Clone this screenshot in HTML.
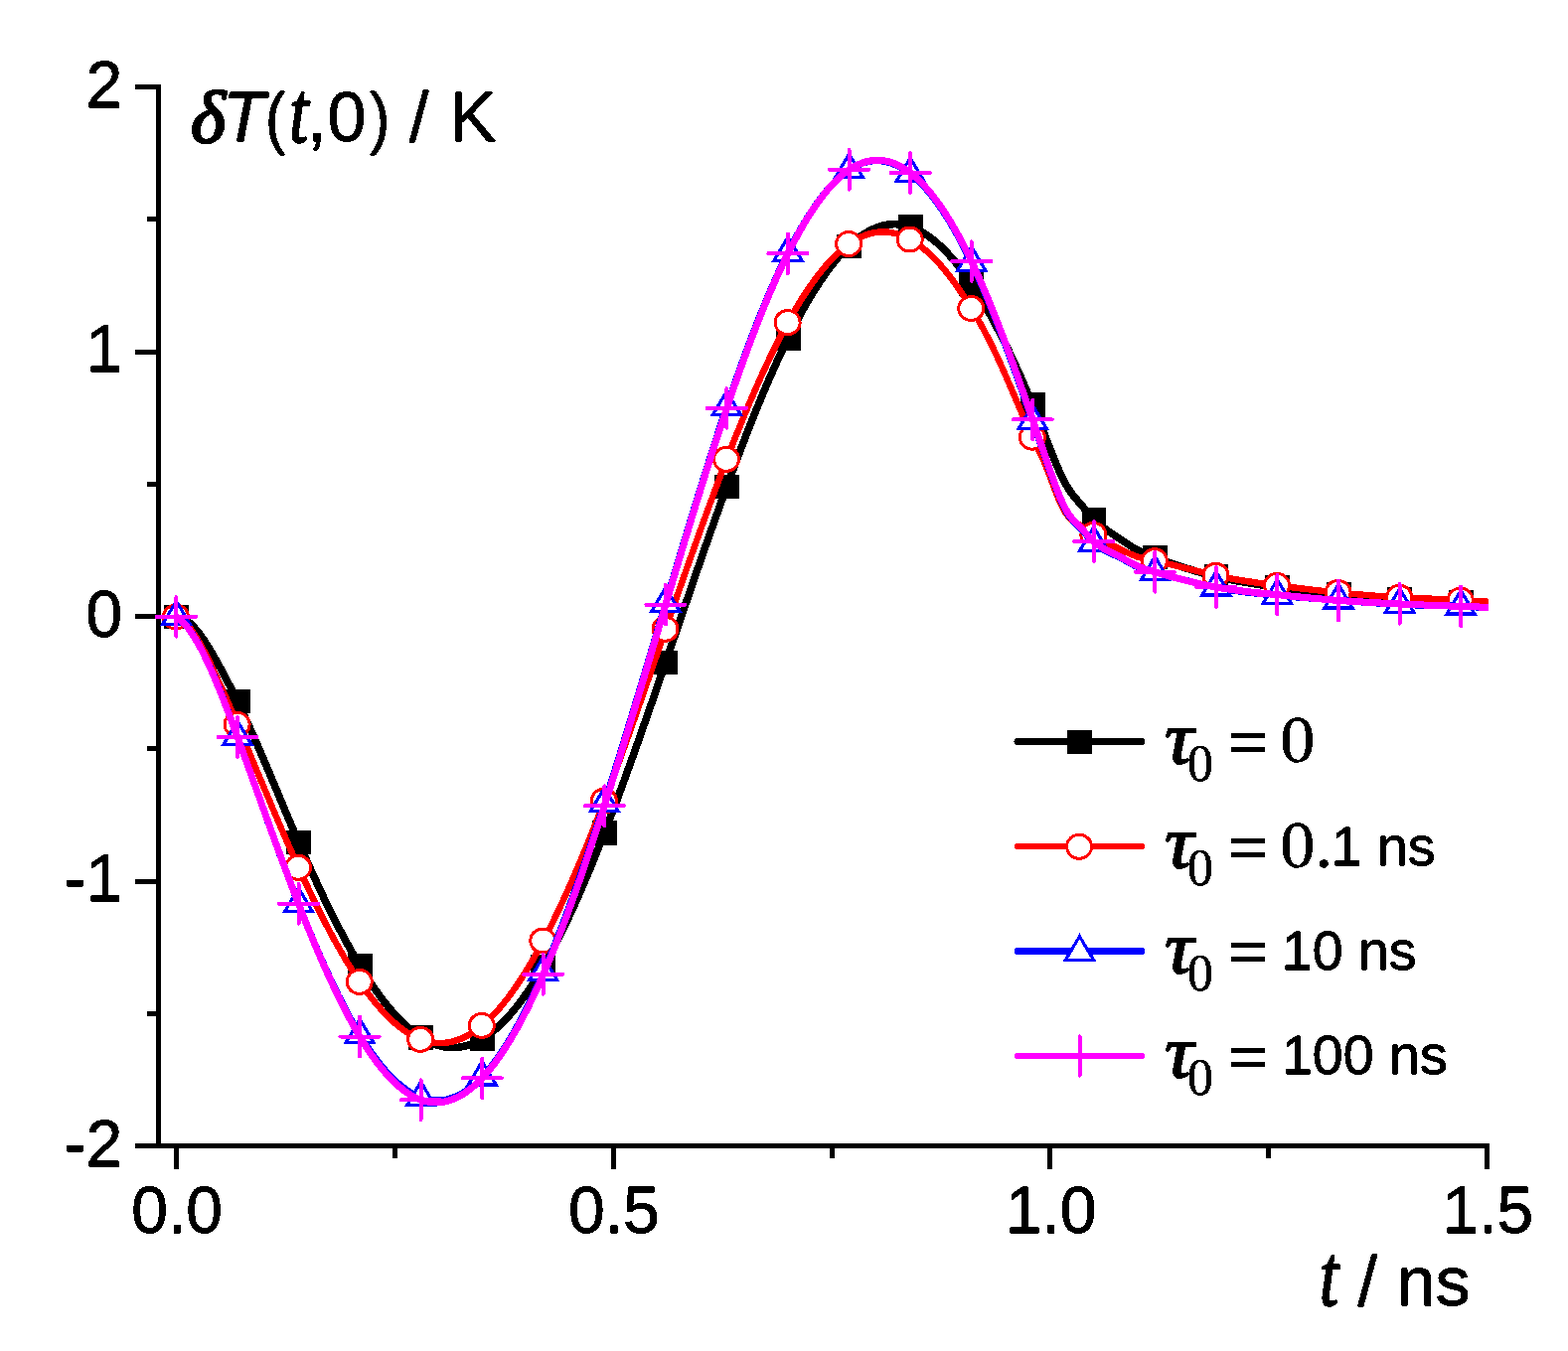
<!DOCTYPE html>
<html lang="en"><head><meta charset="utf-8"><title>Temperature response chart</title>
<style>html,body{margin:0;padding:0;background:#fff}body{width:1578px;height:1360px;overflow:hidden}svg{display:block}text{fill:#000;stroke:#000;stroke-width:0.45px;stroke-linejoin:round}.a{font-family:"Liberation Sans",Arial,sans-serif}.s{font-family:"Liberation Serif","Times New Roman",serif}.i{font-style:italic}</style>
</head><body>
<svg width="1578" height="1360" viewBox="0 0 1578 1360">
<defs><filter id="bin" x="-5%" y="-20%" width="110%" height="140%" color-interpolation-filters="sRGB"><feComponentTransfer><feFuncA type="discrete" tableValues="0 1 1 1"/></feComponentTransfer></filter></defs>
<rect width="1578" height="1360" fill="#fff"/>
<g stroke="#000" stroke-width="5" fill="none" stroke-linecap="butt" shape-rendering="crispEdges">
<path d="M159.5,85 V1156"/>
<path d="M157,1153.5 H1499"/>
<path d="M136,87.5 H160"/>
<path d="M136,354 H160"/>
<path d="M136,620.5 H160"/>
<path d="M136,887 H160"/>
<path d="M136,1153.5 H160"/>
<path d="M147.5,220.75 H160"/>
<path d="M147.5,487.25 H160"/>
<path d="M147.5,753.75 H160"/>
<path d="M147.5,1020.25 H160"/>
<path d="M177.4,1153 V1177"/>
<path d="M617.1,1153 V1177"/>
<path d="M1056.8,1153 V1177"/>
<path d="M1496.5,1153 V1177"/>
<path d="M397.3,1153 V1166"/>
<path d="M837.0,1153 V1166"/>
<path d="M1276.7,1153 V1166"/>
</g>
<path d="M177.4,621.0 178.9,621.1 180.4,621.3 181.9,621.7 183.4,622.3 184.9,623.0 186.4,623.8 187.9,624.8 189.4,625.9 190.9,627.2 192.4,628.5 193.9,630.0 195.4,631.6 196.9,633.3 198.4,635.1 199.9,637.0 201.4,639.0 202.9,641.0 204.4,643.2 205.9,645.4 207.4,647.7 208.9,650.1 210.4,652.6 211.9,655.0 213.4,657.6 214.9,660.2 216.4,662.8 217.9,665.5 219.4,668.2 220.9,670.9 222.4,673.7 223.9,676.4 225.4,679.2 226.9,682.1 228.4,684.9 229.9,687.8 231.4,690.7 232.9,693.7 234.4,696.7 235.9,699.7 237.4,702.7 238.9,705.8 240.4,708.9 241.9,712.0 243.4,715.2 244.9,718.4 246.4,721.7 247.9,724.9 249.4,728.2 250.9,731.5 252.4,734.9 253.9,738.3 255.4,741.6 256.9,745.1 258.4,748.5 259.9,751.9 261.4,755.4 262.9,758.9 264.4,762.4 265.9,765.9 267.4,769.4 268.9,773.0 270.4,776.5 271.9,780.1 273.4,783.6 274.9,787.2 276.4,790.8 277.9,794.3 279.4,797.9 280.9,801.5 282.4,805.1 283.9,808.6 285.4,812.2 286.9,815.8 288.4,819.4 289.9,822.9 291.4,826.5 292.9,830.0 294.4,833.5 295.9,837.1 297.4,840.6 298.9,844.1 300.4,847.5 301.9,851.0 303.4,854.4 304.9,857.9 306.4,861.3 307.9,864.7 309.4,868.0 310.9,871.4 312.4,874.7 313.9,878.0 315.4,881.3 316.9,884.6 318.4,887.8 319.9,891.1 321.4,894.3 322.9,897.5 324.4,900.7 325.9,903.8 327.4,906.9 328.9,910.0 330.4,913.1 331.9,916.1 333.4,919.2 334.9,922.2 336.4,925.2 337.9,928.1 339.4,931.0 340.9,933.9 342.4,936.8 343.9,939.7 345.4,942.5 346.9,945.3 348.4,948.1 349.9,950.8 351.4,953.5 352.9,956.2 354.4,958.9 355.9,961.5 357.4,964.1 358.9,966.7 360.4,969.2 361.9,971.7 363.4,974.2 364.9,976.6 366.4,979.0 367.9,981.4 369.4,983.8 370.9,986.1 372.4,988.4 373.9,990.6 375.4,992.9 376.9,995.0 378.4,997.2 379.9,999.3 381.4,1001.4 382.9,1003.4 384.4,1005.4 385.9,1007.4 387.4,1009.4 388.9,1011.3 390.4,1013.1 391.9,1015.0 393.4,1016.7 394.9,1018.5 396.4,1020.2 397.9,1021.9 399.4,1023.5 400.9,1025.1 402.4,1026.7 403.9,1028.2 405.4,1029.7 406.9,1031.1 408.4,1032.5 409.9,1033.9 411.4,1035.2 412.9,1036.5 414.4,1037.7 415.9,1038.9 417.4,1040.1 418.9,1041.2 420.4,1042.3 421.9,1043.3 423.4,1044.3 424.9,1045.2 426.4,1046.1 427.9,1046.9 429.4,1047.7 430.9,1048.5 432.4,1049.2 433.9,1049.9 435.4,1050.5 436.9,1051.1 438.4,1051.6 439.9,1052.1 441.4,1052.5 442.9,1052.9 444.4,1053.3 445.9,1053.6 447.4,1053.9 448.9,1054.1 450.4,1054.3 451.9,1054.4 453.4,1054.5 454.9,1054.5 456.4,1054.5 457.9,1054.5 459.4,1054.4 460.9,1054.3 462.4,1054.1 463.9,1053.9 465.4,1053.6 466.9,1053.3 468.4,1052.9 469.9,1052.5 471.4,1052.1 472.9,1051.6 474.4,1051.0 475.9,1050.4 477.4,1049.8 478.9,1049.1 480.4,1048.4 481.9,1047.6 483.4,1046.8 484.9,1046.0 486.4,1045.1 487.9,1044.1 489.4,1043.1 490.9,1042.1 492.4,1041.0 493.9,1039.9 495.4,1038.7 496.9,1037.5 498.4,1036.2 499.9,1034.9 501.4,1033.6 502.9,1032.2 504.4,1030.7 505.9,1029.2 507.4,1027.7 508.9,1026.1 510.4,1024.5 511.9,1022.9 513.4,1021.2 514.9,1019.5 516.4,1017.7 517.9,1015.9 519.4,1014.0 520.9,1012.1 522.4,1010.2 523.9,1008.2 525.4,1006.1 526.9,1004.1 528.4,1002.0 529.9,999.8 531.4,997.6 532.9,995.4 534.4,993.1 535.9,990.8 537.4,988.5 538.9,986.1 540.4,983.7 541.9,981.2 543.4,978.7 544.9,976.2 546.4,973.6 547.9,971.0 549.4,968.3 550.9,965.6 552.4,962.9 553.9,960.2 555.4,957.4 556.9,954.5 558.4,951.6 559.9,948.7 561.4,945.8 562.9,942.8 564.4,939.8 565.9,936.8 567.4,933.7 568.9,930.6 570.4,927.4 571.9,924.3 573.4,921.1 574.9,917.8 576.4,914.6 577.9,911.3 579.4,907.9 580.9,904.6 582.4,901.2 583.9,897.8 585.4,894.3 586.9,890.9 588.4,887.3 589.9,883.8 591.4,880.3 592.9,876.7 594.4,873.1 595.9,869.4 597.4,865.8 598.9,862.1 600.4,858.4 601.9,854.6 603.4,850.9 604.9,847.1 606.4,843.3 607.9,839.4 609.4,835.6 610.9,831.7 612.4,827.8 613.9,823.9 615.4,819.9 616.9,816.0 618.4,812.0 619.9,808.0 621.4,804.0 622.9,799.9 624.4,795.9 625.9,791.8 627.4,787.7 628.9,783.6 630.4,779.5 631.9,775.3 633.4,771.2 634.9,767.0 636.4,762.8 637.9,758.6 639.4,754.4 640.9,750.2 642.4,746.0 643.9,741.7 645.4,737.5 646.9,733.2 648.4,728.9 649.9,724.6 651.4,720.3 652.9,716.0 654.4,711.7 655.9,707.4 657.4,703.0 658.9,698.7 660.4,694.3 661.9,690.0 663.4,685.6 664.9,681.3 666.4,676.9 667.9,672.5 669.4,668.2 670.9,663.8 672.4,659.4 673.9,655.0 675.4,650.6 676.9,646.2 678.4,641.8 679.9,637.5 681.4,633.1 682.9,628.7 684.4,624.3 685.9,619.9 687.4,615.5 688.9,611.1 690.4,606.8 691.9,602.4 693.4,598.0 694.9,593.6 696.4,589.3 697.9,584.9 699.4,580.6 700.9,576.2 702.4,571.9 703.9,567.6 705.4,563.2 706.9,558.9 708.4,554.6 709.9,550.3 711.4,546.0 712.9,541.8 714.4,537.5 715.9,533.3 717.4,529.0 718.9,524.8 720.4,520.6 721.9,516.4 723.4,512.2 724.9,508.0 726.4,503.8 727.9,499.7 729.4,495.5 730.9,491.4 732.4,487.3 733.9,483.2 735.4,479.2 736.9,475.1 738.4,471.1 739.9,467.1 741.4,463.1 742.9,459.1 744.4,455.2 745.9,451.2 747.4,447.3 748.9,443.4 750.4,439.6 751.9,435.7 753.4,431.9 754.9,428.1 756.4,424.3 757.9,420.6 759.4,416.8 760.9,413.1 762.4,409.5 763.9,405.8 765.4,402.2 766.9,398.6 768.4,395.0 769.9,391.5 771.4,388.0 772.9,384.5 774.4,381.0 775.9,377.6 777.4,374.2 778.9,370.8 780.4,367.5 781.9,364.1 783.4,360.9 784.9,357.6 786.4,354.4 787.9,351.2 789.4,348.1 790.9,345.0 792.4,341.9 793.9,338.8 795.4,335.8 796.9,332.8 798.4,329.9 799.9,327.0 801.4,324.1 802.9,321.3 804.4,318.5 805.9,315.7 807.4,313.0 808.9,310.3 810.4,307.7 811.9,305.1 813.4,302.5 814.9,300.0 816.4,297.5 817.9,295.0 819.4,292.6 820.9,290.2 822.4,287.9 823.9,285.6 825.4,283.3 826.9,281.1 828.4,278.9 829.9,276.8 831.4,274.7 832.9,272.6 834.4,270.6 835.9,268.6 837.4,266.7 838.9,264.8 840.4,262.9 841.9,261.1 843.4,259.3 844.9,257.6 846.4,255.9 847.9,254.3 849.4,252.7 850.9,251.2 852.4,249.7 853.9,248.2 855.4,246.8 856.9,245.4 858.4,244.1 859.9,242.8 861.4,241.6 862.9,240.4 864.4,239.3 865.9,238.2 867.4,237.1 868.9,236.1 870.4,235.1 871.9,234.2 873.4,233.4 874.9,232.5 876.4,231.8 877.9,231.0 879.4,230.3 880.9,229.7 882.4,229.1 883.9,228.6 885.4,228.1 886.9,227.6 888.4,227.2 889.9,226.8 891.4,226.5 892.9,226.3 894.4,226.0 895.9,225.9 897.4,225.8 898.9,225.7 900.4,225.6 901.9,225.7 903.4,225.7 904.9,225.8 906.4,226.0 907.9,226.2 909.4,226.5 910.9,226.8 912.4,227.1 913.9,227.5 915.4,228.0 916.9,228.5 918.4,229.0 919.9,229.6 921.4,230.3 922.9,230.9 924.4,231.7 925.9,232.5 927.4,233.3 928.9,234.2 930.4,235.1 931.9,236.0 933.4,237.1 934.9,238.1 936.4,239.2 937.9,240.4 939.4,241.5 940.9,242.8 942.4,244.1 943.9,245.4 945.4,246.7 946.9,248.2 948.4,249.6 949.9,251.1 951.4,252.6 952.9,254.2 954.4,255.8 955.9,257.5 957.4,259.2 958.9,260.9 960.4,262.7 961.9,264.5 963.4,266.4 964.9,268.3 966.4,270.2 967.9,272.2 969.4,274.2 970.9,276.3 972.4,278.4 973.9,280.5 975.4,282.7 976.9,284.9 978.4,287.1 979.9,289.4 981.4,291.7 982.9,294.1 984.4,296.5 985.9,298.9 987.4,301.4 988.9,303.9 990.4,306.4 991.9,309.0 993.4,311.6 994.9,314.2 996.4,316.9 997.9,319.6 999.4,322.3 1000.9,325.1 1002.4,327.9 1003.9,330.8 1005.4,333.7 1006.9,336.6 1008.4,339.5 1009.9,342.5 1011.4,345.6 1012.9,348.6 1014.4,351.7 1015.9,354.8 1017.4,358.0 1018.9,361.2 1020.4,364.4 1021.9,367.6 1023.4,370.9 1024.9,374.2 1026.4,377.6 1027.9,381.0 1029.4,384.4 1030.9,387.8 1032.4,391.3 1033.9,394.8 1035.4,398.4 1036.9,401.9 1038.4,405.5 1039.9,409.2 1041.4,412.8 1042.9,416.5 1044.4,420.2 1045.9,424.0 1047.4,427.7 1048.9,431.5 1050.4,435.3 1051.9,439.1 1053.4,443.0 1054.9,446.8 1056.4,450.6 1057.9,454.5 1059.4,458.3 1060.9,462.1 1062.4,465.8 1063.9,469.4 1065.4,472.9 1066.9,476.2 1068.4,479.4 1069.9,482.4 1071.4,485.3 1072.9,488.0 1074.4,490.5 1075.9,492.9 1077.4,495.1 1078.9,497.1 1080.4,499.1 1081.9,500.9 1083.4,502.7 1084.9,504.5 1086.4,506.2 1087.9,508.0 1089.4,509.7 1090.9,511.5 1092.4,513.3 1093.9,515.0 1095.4,516.8 1096.9,518.5 1098.4,520.1 1099.9,521.7 1101.4,523.2 1102.9,524.7 1104.4,526.1 1105.9,527.4 1107.4,528.7 1108.9,529.9 1110.4,531.1 1111.9,532.2 1113.4,533.3 1114.9,534.4 1116.4,535.4 1117.9,536.4 1119.4,537.4 1120.9,538.4 1122.4,539.4 1123.9,540.4 1125.4,541.4 1126.9,542.4 1128.4,543.5 1129.9,544.5 1131.4,545.5 1132.9,546.5 1134.4,547.5 1135.9,548.5 1137.4,549.5 1138.9,550.5 1140.4,551.4 1141.9,552.3 1143.4,553.1 1144.9,553.9 1146.4,554.7 1147.9,555.4 1149.4,556.1 1150.9,556.8 1152.4,557.5 1153.9,558.1 1155.4,558.7 1156.9,559.3 1158.4,559.8 1159.9,560.4 1161.4,561.0 1162.9,561.5 1164.4,562.1 1165.9,562.6 1167.4,563.1 1168.9,563.7 1170.4,564.2 1171.9,564.7 1173.4,565.3 1174.9,565.8 1176.4,566.3 1177.9,566.8 1179.4,567.3 1180.9,567.8 1182.4,568.3 1183.9,568.8 1185.4,569.3 1186.9,569.8 1188.4,570.3 1189.9,570.8 1191.4,571.2 1192.9,571.7 1194.4,572.2 1195.9,572.6 1197.4,573.1 1198.9,573.6 1200.4,574.0 1201.9,574.4 1203.4,574.9 1204.9,575.3 1206.4,575.7 1207.9,576.2 1209.4,576.6 1210.9,577.0 1212.4,577.4 1213.9,577.8 1215.4,578.2 1216.9,578.6 1218.4,579.0 1219.9,579.3 1221.4,579.7 1222.9,580.1 1224.4,580.4 1225.9,580.8 1227.4,581.1 1228.9,581.5 1230.4,581.8 1231.9,582.1 1233.4,582.5 1234.9,582.8 1236.4,583.1 1237.9,583.4 1239.4,583.7 1240.9,584.0 1242.4,584.3 1243.9,584.6 1245.4,584.9 1246.9,585.1 1248.4,585.4 1249.9,585.7 1251.4,585.9 1252.9,586.2 1254.4,586.5 1255.9,586.7 1257.4,587.0 1258.9,587.2 1260.4,587.5 1261.9,587.7 1263.4,587.9 1264.9,588.2 1266.4,588.4 1267.9,588.6 1269.4,588.9 1270.9,589.1 1272.4,589.3 1273.9,589.5 1275.4,589.7 1276.9,589.9 1278.4,590.1 1279.9,590.4 1281.4,590.6 1282.9,590.8 1284.4,591.0 1285.9,591.2 1287.4,591.4 1288.9,591.6 1290.4,591.7 1291.9,591.9 1293.4,592.1 1294.9,592.3 1296.4,592.5 1297.9,592.7 1299.4,592.9 1300.9,593.1 1302.4,593.2 1303.9,593.4 1305.4,593.6 1306.9,593.8 1308.4,594.0 1309.9,594.1 1311.4,594.3 1312.9,594.5 1314.4,594.7 1315.9,594.8 1317.4,595.0 1318.9,595.2 1320.4,595.3 1321.9,595.5 1323.4,595.7 1324.9,595.8 1326.4,596.0 1327.9,596.1 1329.4,596.3 1330.9,596.5 1332.4,596.6 1333.9,596.8 1335.4,596.9 1336.9,597.1 1338.4,597.2 1339.9,597.4 1341.4,597.5 1342.9,597.7 1344.4,597.8 1345.9,598.0 1347.4,598.1 1348.9,598.3 1350.4,598.4 1351.9,598.6 1353.4,598.7 1354.9,598.9 1356.4,599.0 1357.9,599.1 1359.4,599.3 1360.9,599.4 1362.4,599.6 1363.9,599.7 1365.4,599.8 1366.9,600.0 1368.4,600.1 1369.9,600.2 1371.4,600.4 1372.9,600.5 1374.4,600.6 1375.9,600.8 1377.4,600.9 1378.9,601.0 1380.4,601.1 1381.9,601.3 1383.4,601.4 1384.9,601.5 1386.4,601.6 1387.9,601.7 1389.4,601.8 1390.9,602.0 1392.4,602.1 1393.9,602.2 1395.4,602.3 1396.9,602.4 1398.4,602.5 1399.9,602.6 1401.4,602.7 1402.9,602.8 1404.4,602.9 1405.9,603.0 1407.4,603.1 1408.9,603.2 1410.4,603.3 1411.9,603.4 1413.4,603.5 1414.9,603.6 1416.4,603.7 1417.9,603.8 1419.4,603.9 1420.9,603.9 1422.4,604.0 1423.9,604.1 1425.4,604.2 1426.9,604.3 1428.4,604.3 1429.9,604.4 1431.4,604.5 1432.9,604.6 1434.4,604.6 1435.9,604.7 1437.4,604.8 1438.9,604.9 1440.4,604.9 1441.9,605.0 1443.4,605.1 1444.9,605.1 1446.4,605.2 1447.9,605.3 1449.4,605.3 1450.9,605.4 1452.4,605.5 1453.9,605.5 1455.4,605.6 1456.9,605.7 1458.4,605.7 1459.9,605.8 1461.4,605.8 1462.9,605.9 1464.4,606.0 1465.9,606.0 1467.4,606.1 1468.9,606.2 1470.4,606.2 1471.9,606.3 1473.4,606.3 1474.9,606.4 1476.4,606.5 1477.9,606.5 1479.4,606.6 1480.9,606.6 1482.4,606.7 1483.9,606.8 1485.4,606.8 1486.9,606.9 1488.4,606.9 1489.9,607.0 1491.4,607.1 1492.9,607.1 1494.4,607.2 1495.9,607.2 1497.4,607.3 1497.5,607.3" fill="none" stroke="#000" stroke-width="7.6" stroke-linejoin="round" shape-rendering="crispEdges"/>
<g shape-rendering="crispEdges">
<rect x="165.1" y="608.9" width="24.8" height="24.2" fill="#000"/>
<rect x="226.7" y="693.8" width="24.8" height="24.2" fill="#000"/>
<rect x="288.2" y="835.7" width="24.8" height="24.2" fill="#000"/>
<rect x="349.8" y="959.9" width="24.8" height="24.2" fill="#000"/>
<rect x="411.3" y="1032.3" width="24.8" height="24.2" fill="#000"/>
<rect x="472.9" y="1033.7" width="24.8" height="24.2" fill="#000"/>
<rect x="534.4" y="960.9" width="24.8" height="24.2" fill="#000"/>
<rect x="596.0" y="826.3" width="24.8" height="24.2" fill="#000"/>
<rect x="657.6" y="654.7" width="24.8" height="24.2" fill="#000"/>
<rect x="719.1" y="477.9" width="24.8" height="24.2" fill="#000"/>
<rect x="780.7" y="328.6" width="24.8" height="24.2" fill="#000"/>
<rect x="842.2" y="235.5" width="24.8" height="24.2" fill="#000"/>
<rect x="903.8" y="216.1" width="24.8" height="24.2" fill="#000"/>
<rect x="965.4" y="273.9" width="24.8" height="24.2" fill="#000"/>
<rect x="1026.9" y="395.4" width="24.8" height="24.2" fill="#000"/>
<rect x="1088.5" y="510.5" width="24.8" height="24.2" fill="#000"/>
<rect x="1150.0" y="549.2" width="24.8" height="24.2" fill="#000"/>
<rect x="1211.6" y="568.2" width="24.8" height="24.2" fill="#000"/>
<rect x="1273.1" y="579.0" width="24.8" height="24.2" fill="#000"/>
<rect x="1334.7" y="586.0" width="24.8" height="24.2" fill="#000"/>
<rect x="1396.3" y="591.1" width="24.8" height="24.2" fill="#000"/>
<rect x="1457.8" y="594.1" width="24.8" height="24.2" fill="#000"/>
</g>
<path d="M177.4,621.0 178.9,621.5 180.4,622.3 181.9,623.2 183.4,624.3 184.9,625.5 186.4,626.9 187.9,628.4 189.4,630.1 190.9,632.0 192.4,633.9 193.9,636.0 195.4,638.2 196.9,640.6 198.4,643.0 199.9,645.5 201.4,648.1 202.9,650.8 204.4,653.6 205.9,656.5 207.4,659.4 208.9,662.4 210.4,665.5 211.9,668.5 213.4,671.7 214.9,674.8 216.4,678.0 217.9,681.3 219.4,684.6 220.9,687.8 222.4,691.2 223.9,694.5 225.4,697.9 226.9,701.3 228.4,704.7 229.9,708.2 231.4,711.6 232.9,715.1 234.4,718.6 235.9,722.1 237.4,725.6 238.9,729.2 240.4,732.7 241.9,736.2 243.4,739.8 244.9,743.3 246.4,746.9 247.9,750.5 249.4,754.0 250.9,757.6 252.4,761.2 253.9,764.8 255.4,768.3 256.9,771.9 258.4,775.5 259.9,779.1 261.4,782.6 262.9,786.2 264.4,789.8 265.9,793.4 267.4,796.9 268.9,800.5 270.4,804.0 271.9,807.6 273.4,811.1 274.9,814.7 276.4,818.2 277.9,821.7 279.4,825.2 280.9,828.7 282.4,832.2 283.9,835.7 285.4,839.2 286.9,842.6 288.4,846.1 289.9,849.5 291.4,852.9 292.9,856.3 294.4,859.7 295.9,863.0 297.4,866.4 298.9,869.7 300.4,873.0 301.9,876.3 303.4,879.6 304.9,882.9 306.4,886.1 307.9,889.3 309.4,892.5 310.9,895.7 312.4,898.8 313.9,902.0 315.4,905.1 316.9,908.2 318.4,911.2 319.9,914.3 321.4,917.3 322.9,920.3 324.4,923.2 325.9,926.2 327.4,929.1 328.9,932.0 330.4,934.8 331.9,937.7 333.4,940.5 334.9,943.3 336.4,946.0 337.9,948.7 339.4,951.4 340.9,954.1 342.4,956.7 343.9,959.3 345.4,961.9 346.9,964.5 348.4,967.0 349.9,969.5 351.4,971.9 352.9,974.3 354.4,976.7 355.9,979.1 357.4,981.4 358.9,983.7 360.4,985.9 361.9,988.1 363.4,990.3 364.9,992.5 366.4,994.6 367.9,996.7 369.4,998.7 370.9,1000.7 372.4,1002.7 373.9,1004.6 375.4,1006.5 376.9,1008.4 378.4,1010.2 379.9,1012.0 381.4,1013.7 382.9,1015.4 384.4,1017.1 385.9,1018.7 387.4,1020.3 388.9,1021.8 390.4,1023.4 391.9,1024.8 393.4,1026.3 394.9,1027.7 396.4,1029.0 397.9,1030.3 399.4,1031.6 400.9,1032.8 402.4,1034.0 403.9,1035.2 405.4,1036.3 406.9,1037.4 408.4,1038.4 409.9,1039.4 411.4,1040.3 412.9,1041.2 414.4,1042.1 415.9,1042.9 417.4,1043.7 418.9,1044.4 420.4,1045.1 421.9,1045.7 423.4,1046.3 424.9,1046.9 426.4,1047.4 427.9,1047.8 429.4,1048.3 430.9,1048.6 432.4,1049.0 433.9,1049.2 435.4,1049.5 436.9,1049.7 438.4,1049.8 439.9,1049.9 441.4,1050.0 442.9,1050.0 444.4,1050.0 445.9,1049.9 447.4,1049.8 448.9,1049.7 450.4,1049.5 451.9,1049.2 453.4,1048.9 454.9,1048.6 456.4,1048.2 457.9,1047.8 459.4,1047.3 460.9,1046.8 462.4,1046.3 463.9,1045.7 465.4,1045.0 466.9,1044.3 468.4,1043.6 469.9,1042.8 471.4,1042.0 472.9,1041.2 474.4,1040.2 475.9,1039.3 477.4,1038.3 478.9,1037.3 480.4,1036.2 481.9,1035.0 483.4,1033.9 484.9,1032.6 486.4,1031.4 487.9,1030.1 489.4,1028.7 490.9,1027.3 492.4,1025.9 493.9,1024.4 495.4,1022.9 496.9,1021.3 498.4,1019.7 499.9,1018.1 501.4,1016.4 502.9,1014.6 504.4,1012.9 505.9,1011.1 507.4,1009.2 508.9,1007.3 510.4,1005.4 511.9,1003.4 513.4,1001.4 514.9,999.3 516.4,997.2 517.9,995.1 519.4,992.9 520.9,990.7 522.4,988.5 523.9,986.2 525.4,983.9 526.9,981.5 528.4,979.1 529.9,976.7 531.4,974.2 532.9,971.7 534.4,969.2 535.9,966.6 537.4,964.0 538.9,961.4 540.4,958.7 541.9,956.0 543.4,953.2 544.9,950.5 546.4,947.7 547.9,944.8 549.4,941.9 550.9,939.0 552.4,936.1 553.9,933.1 555.4,930.1 556.9,927.1 558.4,924.0 559.9,920.9 561.4,917.8 562.9,914.6 564.4,911.4 565.9,908.2 567.4,904.9 568.9,901.7 570.4,898.4 571.9,895.0 573.4,891.7 574.9,888.3 576.4,884.9 577.9,881.4 579.4,877.9 580.9,874.4 582.4,870.9 583.9,867.4 585.4,863.8 586.9,860.2 588.4,856.6 589.9,852.9 591.4,849.2 592.9,845.5 594.4,841.8 595.9,838.1 597.4,834.3 598.9,830.5 600.4,826.7 601.9,822.8 603.4,819.0 604.9,815.1 606.4,811.2 607.9,807.3 609.4,803.3 610.9,799.4 612.4,795.4 613.9,791.4 615.4,787.3 616.9,783.3 618.4,779.2 619.9,775.2 621.4,771.1 622.9,767.0 624.4,762.8 625.9,758.7 627.4,754.5 628.9,750.4 630.4,746.2 631.9,742.0 633.4,737.8 634.9,733.6 636.4,729.3 637.9,725.1 639.4,720.9 640.9,716.6 642.4,712.3 643.9,708.1 645.4,703.8 646.9,699.5 648.4,695.2 649.9,690.9 651.4,686.6 652.9,682.3 654.4,677.9 655.9,673.6 657.4,669.3 658.9,665.0 660.4,660.6 661.9,656.3 663.4,652.0 664.9,647.6 666.4,643.3 667.9,639.0 669.4,634.6 670.9,630.3 672.4,626.0 673.9,621.7 675.4,617.3 676.9,613.0 678.4,608.7 679.9,604.4 681.4,600.1 682.9,595.8 684.4,591.5 685.9,587.2 687.4,582.9 688.9,578.6 690.4,574.4 691.9,570.1 693.4,565.9 694.9,561.6 696.4,557.4 697.9,553.2 699.4,549.0 700.9,544.8 702.4,540.6 703.9,536.4 705.4,532.2 706.9,528.1 708.4,523.9 709.9,519.8 711.4,515.7 712.9,511.6 714.4,507.5 715.9,503.4 717.4,499.4 718.9,495.3 720.4,491.3 721.9,487.3 723.4,483.3 724.9,479.3 726.4,475.4 727.9,471.5 729.4,467.5 730.9,463.7 732.4,459.8 733.9,455.9 735.4,452.1 736.9,448.3 738.4,444.5 739.9,440.7 741.4,437.0 742.9,433.3 744.4,429.6 745.9,425.9 747.4,422.2 748.9,418.6 750.4,415.0 751.9,411.4 753.4,407.9 754.9,404.3 756.4,400.8 757.9,397.4 759.4,393.9 760.9,390.5 762.4,387.1 763.9,383.8 765.4,380.4 766.9,377.1 768.4,373.8 769.9,370.6 771.4,367.4 772.9,364.2 774.4,361.0 775.9,357.9 777.4,354.8 778.9,351.7 780.4,348.7 781.9,345.7 783.4,342.7 784.9,339.8 786.4,336.9 787.9,334.0 789.4,331.2 790.9,328.4 792.4,325.7 793.9,322.9 795.4,320.2 796.9,317.6 798.4,315.0 799.9,312.4 801.4,309.8 802.9,307.3 804.4,304.9 805.9,302.4 807.4,300.0 808.9,297.7 810.4,295.4 811.9,293.1 813.4,290.9 814.9,288.6 816.4,286.5 817.9,284.4 819.4,282.3 820.9,280.2 822.4,278.2 823.9,276.3 825.4,274.4 826.9,272.5 828.4,270.6 829.9,268.8 831.4,267.1 832.9,265.4 834.4,263.7 835.9,262.1 837.4,260.5 838.9,258.9 840.4,257.4 841.9,256.0 843.4,254.6 844.9,253.2 846.4,251.9 847.9,250.6 849.4,249.4 850.9,248.2 852.4,247.0 853.9,246.0 855.4,244.9 856.9,243.9 858.4,242.9 859.9,242.0 861.4,241.2 862.9,240.3 864.4,239.6 865.9,238.8 867.4,238.2 868.9,237.5 870.4,236.9 871.9,236.4 873.4,235.9 874.9,235.4 876.4,235.0 877.9,234.7 879.4,234.4 880.9,234.1 882.4,233.9 883.9,233.7 885.4,233.6 886.9,233.5 888.4,233.4 889.9,233.4 891.4,233.5 892.9,233.6 894.4,233.7 895.9,233.9 897.4,234.2 898.9,234.5 900.4,234.8 901.9,235.2 903.4,235.6 904.9,236.1 906.4,236.6 907.9,237.1 909.4,237.7 910.9,238.4 912.4,239.1 913.9,239.8 915.4,240.6 916.9,241.5 918.4,242.3 919.9,243.3 921.4,244.2 922.9,245.3 924.4,246.3 925.9,247.4 927.4,248.6 928.9,249.8 930.4,251.0 931.9,252.3 933.4,253.6 934.9,255.0 936.4,256.4 937.9,257.8 939.4,259.3 940.9,260.9 942.4,262.4 943.9,264.1 945.4,265.7 946.9,267.4 948.4,269.1 949.9,270.9 951.4,272.7 952.9,274.6 954.4,276.5 955.9,278.4 957.4,280.4 958.9,282.4 960.4,284.4 961.9,286.5 963.4,288.6 964.9,290.8 966.4,293.0 967.9,295.2 969.4,297.4 970.9,299.7 972.4,302.1 973.9,304.4 975.4,306.8 976.9,309.3 978.4,311.7 979.9,314.2 981.4,316.8 982.9,319.3 984.4,322.0 985.9,324.6 987.4,327.3 988.9,330.0 990.4,332.8 991.9,335.7 993.4,338.5 994.9,341.5 996.4,344.4 997.9,347.5 999.4,350.5 1000.9,353.7 1002.4,356.8 1003.9,360.0 1005.4,363.2 1006.9,366.5 1008.4,369.8 1009.9,373.2 1011.4,376.6 1012.9,380.0 1014.4,383.5 1015.9,386.9 1017.4,390.4 1018.9,393.9 1020.4,397.4 1021.9,401.0 1023.4,404.5 1024.9,408.0 1026.4,411.5 1027.9,415.0 1029.4,418.4 1030.9,421.9 1032.4,425.3 1033.9,428.6 1035.4,432.0 1036.9,435.2 1038.4,438.5 1039.9,441.7 1041.4,444.8 1042.9,447.9 1044.4,451.0 1045.9,454.1 1047.4,457.3 1048.9,460.6 1050.4,463.9 1051.9,467.4 1053.4,471.0 1054.9,474.8 1056.4,478.7 1057.9,482.7 1059.4,486.7 1060.9,490.7 1062.4,494.7 1063.9,498.5 1065.4,502.2 1066.9,505.7 1068.4,509.0 1069.9,512.0 1071.4,514.6 1072.9,516.9 1074.4,518.9 1075.9,520.6 1077.4,522.2 1078.9,523.5 1080.4,524.7 1081.9,525.7 1083.4,526.7 1084.9,527.6 1086.4,528.5 1087.9,529.4 1089.4,530.4 1090.9,531.4 1092.4,532.5 1093.9,533.5 1095.4,534.6 1096.9,535.7 1098.4,536.8 1099.9,537.8 1101.4,538.8 1102.9,539.8 1104.4,540.8 1105.9,541.7 1107.4,542.6 1108.9,543.4 1110.4,544.3 1111.9,545.1 1113.4,545.9 1114.9,546.7 1116.4,547.5 1117.9,548.2 1119.4,549.0 1120.9,549.7 1122.4,550.5 1123.9,551.2 1125.4,552.0 1126.9,552.7 1128.4,553.4 1129.9,554.2 1131.4,554.9 1132.9,555.6 1134.4,556.3 1135.9,557.0 1137.4,557.7 1138.9,558.3 1140.4,559.0 1141.9,559.5 1143.4,560.1 1144.9,560.6 1146.4,561.0 1147.9,561.5 1149.4,561.9 1150.9,562.3 1152.4,562.6 1153.9,563.0 1155.4,563.3 1156.9,563.6 1158.4,563.9 1159.9,564.2 1161.4,564.5 1162.9,564.8 1164.4,565.1 1165.9,565.5 1167.4,565.8 1168.9,566.1 1170.4,566.5 1171.9,566.8 1173.4,567.1 1174.9,567.5 1176.4,567.8 1177.9,568.2 1179.4,568.6 1180.9,568.9 1182.4,569.3 1183.9,569.7 1185.4,570.0 1186.9,570.4 1188.4,570.8 1189.9,571.2 1191.4,571.5 1192.9,571.9 1194.4,572.3 1195.9,572.7 1197.4,573.1 1198.9,573.4 1200.4,573.8 1201.9,574.2 1203.4,574.6 1204.9,574.9 1206.4,575.3 1207.9,575.7 1209.4,576.0 1210.9,576.4 1212.4,576.8 1213.9,577.1 1215.4,577.5 1216.9,577.8 1218.4,578.2 1219.9,578.5 1221.4,578.9 1222.9,579.2 1224.4,579.5 1225.9,579.8 1227.4,580.1 1228.9,580.5 1230.4,580.8 1231.9,581.1 1233.4,581.4 1234.9,581.6 1236.4,581.9 1237.9,582.2 1239.4,582.5 1240.9,582.8 1242.4,583.0 1243.9,583.3 1245.4,583.6 1246.9,583.8 1248.4,584.1 1249.9,584.3 1251.4,584.6 1252.9,584.8 1254.4,585.0 1255.9,585.3 1257.4,585.5 1258.9,585.7 1260.4,586.0 1261.9,586.2 1263.4,586.4 1264.9,586.6 1266.4,586.8 1267.9,587.0 1269.4,587.3 1270.9,587.5 1272.4,587.7 1273.9,587.9 1275.4,588.1 1276.9,588.3 1278.4,588.5 1279.9,588.7 1281.4,588.9 1282.9,589.1 1284.4,589.3 1285.9,589.5 1287.4,589.7 1288.9,589.8 1290.4,590.0 1291.9,590.2 1293.4,590.4 1294.9,590.6 1296.4,590.8 1297.9,591.0 1299.4,591.2 1300.9,591.4 1302.4,591.5 1303.9,591.7 1305.4,591.9 1306.9,592.1 1308.4,592.3 1309.9,592.4 1311.4,592.6 1312.9,592.8 1314.4,593.0 1315.9,593.1 1317.4,593.3 1318.9,593.5 1320.4,593.7 1321.9,593.8 1323.4,594.0 1324.9,594.2 1326.4,594.3 1327.9,594.5 1329.4,594.7 1330.9,594.8 1332.4,595.0 1333.9,595.2 1335.4,595.3 1336.9,595.5 1338.4,595.6 1339.9,595.8 1341.4,595.9 1342.9,596.1 1344.4,596.2 1345.9,596.4 1347.4,596.5 1348.9,596.7 1350.4,596.8 1351.9,597.0 1353.4,597.1 1354.9,597.3 1356.4,597.4 1357.9,597.5 1359.4,597.7 1360.9,597.8 1362.4,598.0 1363.9,598.1 1365.4,598.2 1366.9,598.3 1368.4,598.5 1369.9,598.6 1371.4,598.7 1372.9,598.9 1374.4,599.0 1375.9,599.1 1377.4,599.2 1378.9,599.3 1380.4,599.4 1381.9,599.6 1383.4,599.7 1384.9,599.8 1386.4,599.9 1387.9,600.0 1389.4,600.1 1390.9,600.2 1392.4,600.3 1393.9,600.4 1395.4,600.5 1396.9,600.6 1398.4,600.7 1399.9,600.8 1401.4,600.9 1402.9,601.0 1404.4,601.1 1405.9,601.2 1407.4,601.2 1408.9,601.3 1410.4,601.4 1411.9,601.5 1413.4,601.6 1414.9,601.6 1416.4,601.7 1417.9,601.8 1419.4,601.8 1420.9,601.9 1422.4,602.0 1423.9,602.0 1425.4,602.1 1426.9,602.2 1428.4,602.2 1429.9,602.3 1431.4,602.4 1432.9,602.4 1434.4,602.5 1435.9,602.6 1437.4,602.6 1438.9,602.7 1440.4,602.7 1441.9,602.8 1443.4,602.9 1444.9,602.9 1446.4,603.0 1447.9,603.0 1449.4,603.1 1450.9,603.2 1452.4,603.2 1453.9,603.3 1455.4,603.4 1456.9,603.4 1458.4,603.5 1459.9,603.6 1461.4,603.7 1462.9,603.7 1464.4,603.8 1465.9,603.9 1467.4,604.0 1468.9,604.0 1470.4,604.1 1471.9,604.2 1473.4,604.3 1474.9,604.4 1476.4,604.5 1477.9,604.6 1479.4,604.6 1480.9,604.7 1482.4,604.8 1483.9,604.9 1485.4,605.0 1486.9,605.1 1488.4,605.2 1489.9,605.3 1491.4,605.4 1492.9,605.5 1494.4,605.6 1495.9,605.7 1497.4,605.8 1497.5,605.8" fill="none" stroke="#f00" stroke-width="6.5" stroke-linejoin="round" shape-rendering="crispEdges"/>
<g shape-rendering="crispEdges">
<ellipse cx="177.0" cy="621.0" rx="12.5" ry="12.0" fill="#fff" stroke="#f00" stroke-width="3.0"/>
<ellipse cx="238.6" cy="729.3" rx="12.5" ry="12.0" fill="#fff" stroke="#f00" stroke-width="3.0"/>
<ellipse cx="300.1" cy="873.3" rx="12.5" ry="12.0" fill="#fff" stroke="#f00" stroke-width="3.0"/>
<ellipse cx="361.7" cy="988.4" rx="12.5" ry="12.0" fill="#fff" stroke="#f00" stroke-width="3.0"/>
<ellipse cx="423.2" cy="1046.4" rx="12.5" ry="12.0" fill="#fff" stroke="#f00" stroke-width="3.0"/>
<ellipse cx="484.8" cy="1032.4" rx="12.5" ry="12.0" fill="#fff" stroke="#f00" stroke-width="3.0"/>
<ellipse cx="546.3" cy="947.0" rx="12.5" ry="12.0" fill="#fff" stroke="#f00" stroke-width="3.0"/>
<ellipse cx="607.9" cy="806.2" rx="12.5" ry="12.0" fill="#fff" stroke="#f00" stroke-width="3.0"/>
<ellipse cx="669.5" cy="633.3" rx="12.5" ry="12.0" fill="#fff" stroke="#f00" stroke-width="3.0"/>
<ellipse cx="731.0" cy="462.3" rx="12.5" ry="12.0" fill="#fff" stroke="#f00" stroke-width="3.0"/>
<ellipse cx="792.6" cy="324.6" rx="12.5" ry="12.0" fill="#fff" stroke="#f00" stroke-width="3.0"/>
<ellipse cx="854.1" cy="245.5" rx="12.5" ry="12.0" fill="#fff" stroke="#f00" stroke-width="3.0"/>
<ellipse cx="915.7" cy="241.0" rx="12.5" ry="12.0" fill="#fff" stroke="#f00" stroke-width="3.0"/>
<ellipse cx="977.3" cy="310.5" rx="12.5" ry="12.0" fill="#fff" stroke="#f00" stroke-width="3.0"/>
<ellipse cx="1038.8" cy="440.2" rx="12.5" ry="12.0" fill="#fff" stroke="#f00" stroke-width="3.0"/>
<ellipse cx="1100.4" cy="538.4" rx="12.5" ry="12.0" fill="#fff" stroke="#f00" stroke-width="3.0"/>
<ellipse cx="1161.9" cy="564.7" rx="12.5" ry="12.0" fill="#fff" stroke="#f00" stroke-width="3.0"/>
<ellipse cx="1223.5" cy="579.4" rx="12.5" ry="12.0" fill="#fff" stroke="#f00" stroke-width="3.0"/>
<ellipse cx="1285.0" cy="589.4" rx="12.5" ry="12.0" fill="#fff" stroke="#f00" stroke-width="3.0"/>
<ellipse cx="1346.6" cy="596.5" rx="12.5" ry="12.0" fill="#fff" stroke="#f00" stroke-width="3.0"/>
<ellipse cx="1408.2" cy="601.3" rx="12.5" ry="12.0" fill="#fff" stroke="#f00" stroke-width="3.0"/>
<ellipse cx="1469.7" cy="604.1" rx="12.5" ry="12.0" fill="#fff" stroke="#f00" stroke-width="3.0"/>
</g>
<path d="M177.4,621.0 178.9,622.0 180.4,623.1 181.9,624.3 183.4,625.7 184.9,627.2 186.4,628.9 187.9,630.6 189.4,632.5 190.9,634.5 192.4,636.6 193.9,638.8 195.4,641.2 196.9,643.6 198.4,646.1 199.9,648.8 201.4,651.5 202.9,654.3 204.4,657.2 205.9,660.2 207.4,663.3 208.9,666.5 210.4,669.7 211.9,673.0 213.4,676.4 214.9,679.9 216.4,683.4 217.9,687.0 219.4,690.6 220.9,694.3 222.4,698.0 223.9,701.8 225.4,705.6 226.9,709.5 228.4,713.4 229.9,717.3 231.4,721.3 232.9,725.3 234.4,729.3 235.9,733.4 237.4,737.5 238.9,741.5 240.4,745.6 241.9,749.8 243.4,753.9 244.9,758.0 246.4,762.2 247.9,766.3 249.4,770.5 250.9,774.6 252.4,778.8 253.9,783.0 255.4,787.2 256.9,791.3 258.4,795.5 259.9,799.7 261.4,803.9 262.9,808.1 264.4,812.3 265.9,816.4 267.4,820.6 268.9,824.8 270.4,829.0 271.9,833.1 273.4,837.3 274.9,841.4 276.4,845.6 277.9,849.7 279.4,853.8 280.9,857.9 282.4,862.0 283.9,866.1 285.4,870.1 286.9,874.2 288.4,878.2 289.9,882.2 291.4,886.2 292.9,890.2 294.4,894.1 295.9,898.0 297.4,902.0 298.9,905.8 300.4,909.7 301.9,913.5 303.4,917.3 304.9,921.1 306.4,924.9 307.9,928.6 309.4,932.3 310.9,936.0 312.4,939.7 313.9,943.3 315.4,946.9 316.9,950.4 318.4,954.0 319.9,957.5 321.4,960.9 322.9,964.4 324.4,967.8 325.9,971.2 327.4,974.5 328.9,977.8 330.4,981.1 331.9,984.4 333.4,987.6 334.9,990.8 336.4,993.9 337.9,997.0 339.4,1000.1 340.9,1003.1 342.4,1006.1 343.9,1009.1 345.4,1012.0 346.9,1014.9 348.4,1017.7 349.9,1020.6 351.4,1023.3 352.9,1026.1 354.4,1028.8 355.9,1031.4 357.4,1034.0 358.9,1036.6 360.4,1039.1 361.9,1041.6 363.4,1044.1 364.9,1046.5 366.4,1048.8 367.9,1051.1 369.4,1053.4 370.9,1055.6 372.4,1057.8 373.9,1060.0 375.4,1062.1 376.9,1064.1 378.4,1066.1 379.9,1068.1 381.4,1070.0 382.9,1071.9 384.4,1073.7 385.9,1075.5 387.4,1077.3 388.9,1079.0 390.4,1080.6 391.9,1082.2 393.4,1083.8 394.9,1085.3 396.4,1086.7 397.9,1088.1 399.4,1089.5 400.9,1090.8 402.4,1092.1 403.9,1093.3 405.4,1094.5 406.9,1095.6 408.4,1096.7 409.9,1097.7 411.4,1098.7 412.9,1099.7 414.4,1100.5 415.9,1101.4 417.4,1102.2 418.9,1102.9 420.4,1103.6 421.9,1104.2 423.4,1104.8 424.9,1105.3 426.4,1105.8 427.9,1106.3 429.4,1106.7 430.9,1107.0 432.4,1107.3 433.9,1107.5 435.4,1107.7 436.9,1107.8 438.4,1107.9 439.9,1107.9 441.4,1107.9 442.9,1107.8 444.4,1107.7 445.9,1107.5 447.4,1107.3 448.9,1107.0 450.4,1106.7 451.9,1106.3 453.4,1105.8 454.9,1105.3 456.4,1104.8 457.9,1104.2 459.4,1103.6 460.9,1102.9 462.4,1102.1 463.9,1101.3 465.4,1100.5 466.9,1099.6 468.4,1098.6 469.9,1097.6 471.4,1096.5 472.9,1095.4 474.4,1094.2 475.9,1093.0 477.4,1091.8 478.9,1090.4 480.4,1089.1 481.9,1087.6 483.4,1086.1 484.9,1084.6 486.4,1083.0 487.9,1081.4 489.4,1079.7 490.9,1077.9 492.4,1076.1 493.9,1074.3 495.4,1072.4 496.9,1070.4 498.4,1068.4 499.9,1066.4 501.4,1064.3 502.9,1062.1 504.4,1059.9 505.9,1057.7 507.4,1055.4 508.9,1053.0 510.4,1050.6 511.9,1048.2 513.4,1045.7 514.9,1043.2 516.4,1040.6 517.9,1038.0 519.4,1035.3 520.9,1032.6 522.4,1029.8 523.9,1027.0 525.4,1024.1 526.9,1021.2 528.4,1018.3 529.9,1015.3 531.4,1012.3 532.9,1009.2 534.4,1006.1 535.9,1003.0 537.4,999.8 538.9,996.5 540.4,993.2 541.9,989.9 543.4,986.5 544.9,983.1 546.4,979.7 547.9,976.2 549.4,972.7 550.9,969.1 552.4,965.5 553.9,961.9 555.4,958.2 556.9,954.5 558.4,950.8 559.9,947.0 561.4,943.2 562.9,939.3 564.4,935.5 565.9,931.5 567.4,927.6 568.9,923.6 570.4,919.6 571.9,915.5 573.4,911.5 574.9,907.3 576.4,903.2 577.9,899.0 579.4,894.8 580.9,890.6 582.4,886.4 583.9,882.1 585.4,877.8 586.9,873.4 588.4,869.1 589.9,864.7 591.4,860.3 592.9,855.8 594.4,851.4 595.9,846.9 597.4,842.4 598.9,837.9 600.4,833.3 601.9,828.8 603.4,824.2 604.9,819.5 606.4,814.9 607.9,810.3 609.4,805.6 610.9,800.9 612.4,796.2 613.9,791.5 615.4,786.7 616.9,782.0 618.4,777.2 619.9,772.4 621.4,767.6 622.9,762.8 624.4,758.0 625.9,753.1 627.4,748.2 628.9,743.4 630.4,738.5 631.9,733.6 633.4,728.7 634.9,723.8 636.4,718.9 637.9,713.9 639.4,709.0 640.9,704.0 642.4,699.1 643.9,694.1 645.4,689.1 646.9,684.1 648.4,679.1 649.9,674.2 651.4,669.2 652.9,664.1 654.4,659.1 655.9,654.1 657.4,649.1 658.9,644.1 660.4,639.1 661.9,634.1 663.4,629.0 664.9,624.0 666.4,619.0 667.9,614.0 669.4,609.0 670.9,603.9 672.4,598.9 673.9,593.9 675.4,588.9 676.9,583.9 678.4,578.9 679.9,573.9 681.4,568.9 682.9,563.9 684.4,558.9 685.9,553.9 687.4,549.0 688.9,544.0 690.4,539.1 691.9,534.1 693.4,529.2 694.9,524.3 696.4,519.4 697.9,514.5 699.4,509.6 700.9,504.8 702.4,499.9 703.9,495.1 705.4,490.3 706.9,485.5 708.4,480.7 709.9,475.9 711.4,471.1 712.9,466.4 714.4,461.7 715.9,457.0 717.4,452.3 718.9,447.7 720.4,443.0 721.9,438.4 723.4,433.8 724.9,429.3 726.4,424.7 727.9,420.2 729.4,415.7 730.9,411.2 732.4,406.8 733.9,402.4 735.4,398.0 736.9,393.7 738.4,389.3 739.9,385.0 741.4,380.7 742.9,376.5 744.4,372.3 745.9,368.1 747.4,364.0 748.9,359.8 750.4,355.7 751.9,351.7 753.4,347.7 754.9,343.7 756.4,339.7 757.9,335.8 759.4,331.9 760.9,328.0 762.4,324.2 763.9,320.4 765.4,316.7 766.9,312.9 768.4,309.3 769.9,305.6 771.4,302.0 772.9,298.4 774.4,294.9 775.9,291.4 777.4,288.0 778.9,284.6 780.4,281.2 781.9,277.8 783.4,274.6 784.9,271.3 786.4,268.1 787.9,264.9 789.4,261.8 790.9,258.7 792.4,255.7 793.9,252.7 795.4,249.7 796.9,246.8 798.4,243.9 799.9,241.1 801.4,238.3 802.9,235.6 804.4,232.9 805.9,230.3 807.4,227.7 808.9,225.1 810.4,222.6 811.9,220.2 813.4,217.8 814.9,215.4 816.4,213.1 817.9,210.8 819.4,208.6 820.9,206.4 822.4,204.3 823.9,202.3 825.4,200.2 826.9,198.3 828.4,196.3 829.9,194.5 831.4,192.6 832.9,190.9 834.4,189.1 835.9,187.5 837.4,185.8 838.9,184.3 840.4,182.7 841.9,181.3 843.4,179.9 844.9,178.5 846.4,177.2 847.9,175.9 849.4,174.7 850.9,173.6 852.4,172.5 853.9,171.4 855.4,170.4 856.9,169.5 858.4,168.6 859.9,167.8 861.4,167.0 862.9,166.3 864.4,165.6 865.9,165.0 867.4,164.5 868.9,164.0 870.4,163.5 871.9,163.1 873.4,162.8 874.9,162.5 876.4,162.2 877.9,162.0 879.4,161.9 880.9,161.8 882.4,161.8 883.9,161.8 885.4,161.9 886.9,162.0 888.4,162.2 889.9,162.4 891.4,162.7 892.9,163.1 894.4,163.5 895.9,163.9 897.4,164.4 898.9,165.0 900.4,165.6 901.9,166.2 903.4,166.9 904.9,167.7 906.4,168.5 907.9,169.3 909.4,170.2 910.9,171.2 912.4,172.2 913.9,173.3 915.4,174.4 916.9,175.5 918.4,176.7 919.9,178.0 921.4,179.3 922.9,180.7 924.4,182.1 925.9,183.6 927.4,185.1 928.9,186.6 930.4,188.3 931.9,189.9 933.4,191.6 934.9,193.4 936.4,195.2 937.9,197.1 939.4,199.0 940.9,201.0 942.4,203.0 943.9,205.1 945.4,207.2 946.9,209.3 948.4,211.5 949.9,213.8 951.4,216.1 952.9,218.5 954.4,220.9 955.9,223.3 957.4,225.8 958.9,228.4 960.4,231.0 961.9,233.6 963.4,236.3 964.9,239.1 966.4,241.9 967.9,244.7 969.4,247.6 970.9,250.6 972.4,253.6 973.9,256.6 975.4,259.7 976.9,262.8 978.4,266.0 979.9,269.2 981.4,272.5 982.9,275.8 984.4,279.2 985.9,282.6 987.4,286.0 988.9,289.5 990.4,293.0 991.9,296.6 993.4,300.2 994.9,303.9 996.4,307.5 997.9,311.3 999.4,315.0 1000.9,318.8 1002.4,322.6 1003.9,326.4 1005.4,330.3 1006.9,334.2 1008.4,338.2 1009.9,342.1 1011.4,346.1 1012.9,350.1 1014.4,354.2 1015.9,358.2 1017.4,362.3 1018.9,366.4 1020.4,370.6 1021.9,374.7 1023.4,378.9 1024.9,383.1 1026.4,387.3 1027.9,391.5 1029.4,395.7 1030.9,400.0 1032.4,404.2 1033.9,408.5 1035.4,412.8 1036.9,417.1 1038.4,421.4 1039.9,425.7 1041.4,430.0 1042.9,434.3 1044.4,438.6 1045.9,443.0 1047.4,447.3 1048.9,451.6 1050.4,455.9 1051.9,460.3 1053.4,464.6 1054.9,468.9 1056.4,473.2 1057.9,477.4 1059.4,481.7 1060.9,485.8 1062.4,489.9 1063.9,493.9 1065.4,497.7 1066.9,501.4 1068.4,504.9 1069.9,508.2 1071.4,511.2 1072.9,514.0 1074.4,516.6 1075.9,518.9 1077.4,521.0 1078.9,522.9 1080.4,524.6 1081.9,526.3 1083.4,527.9 1084.9,529.4 1086.4,530.9 1087.9,532.4 1089.4,534.0 1090.9,535.6 1092.4,537.3 1093.9,539.0 1095.4,540.7 1096.9,542.4 1098.4,544.0 1099.9,545.6 1101.4,547.0 1102.9,548.3 1104.4,549.5 1105.9,550.6 1107.4,551.6 1108.9,552.5 1110.4,553.4 1111.9,554.2 1113.4,554.9 1114.9,555.6 1116.4,556.3 1117.9,557.0 1119.4,557.6 1120.9,558.3 1122.4,559.0 1123.9,559.6 1125.4,560.4 1126.9,561.1 1128.4,561.9 1129.9,562.7 1131.4,563.5 1132.9,564.4 1134.4,565.2 1135.9,566.1 1137.4,566.9 1138.9,567.7 1140.4,568.5 1141.9,569.3 1143.4,570.0 1144.9,570.7 1146.4,571.3 1147.9,571.8 1149.4,572.4 1150.9,572.9 1152.4,573.4 1153.9,573.8 1155.4,574.3 1156.9,574.7 1158.4,575.1 1159.9,575.5 1161.4,575.9 1162.9,576.2 1164.4,576.6 1165.9,577.0 1167.4,577.4 1168.9,577.8 1170.4,578.2 1171.9,578.6 1173.4,579.0 1174.9,579.4 1176.4,579.8 1177.9,580.2 1179.4,580.6 1180.9,581.0 1182.4,581.4 1183.9,581.8 1185.4,582.2 1186.9,582.6 1188.4,583.0 1189.9,583.4 1191.4,583.7 1192.9,584.1 1194.4,584.5 1195.9,584.9 1197.4,585.3 1198.9,585.6 1200.4,586.0 1201.9,586.4 1203.4,586.8 1204.9,587.1 1206.4,587.5 1207.9,587.8 1209.4,588.2 1210.9,588.5 1212.4,588.9 1213.9,589.2 1215.4,589.5 1216.9,589.9 1218.4,590.2 1219.9,590.5 1221.4,590.8 1222.9,591.1 1224.4,591.4 1225.9,591.7 1227.4,592.0 1228.9,592.3 1230.4,592.5 1231.9,592.8 1233.4,593.0 1234.9,593.3 1236.4,593.6 1237.9,593.8 1239.4,594.0 1240.9,594.3 1242.4,594.5 1243.9,594.7 1245.4,594.9 1246.9,595.1 1248.4,595.4 1249.9,595.6 1251.4,595.8 1252.9,596.0 1254.4,596.1 1255.9,596.3 1257.4,596.5 1258.9,596.7 1260.4,596.9 1261.9,597.0 1263.4,597.2 1264.9,597.4 1266.4,597.5 1267.9,597.7 1269.4,597.9 1270.9,598.0 1272.4,598.2 1273.9,598.3 1275.4,598.5 1276.9,598.6 1278.4,598.8 1279.9,598.9 1281.4,599.0 1282.9,599.2 1284.4,599.3 1285.9,599.4 1287.4,599.6 1288.9,599.7 1290.4,599.8 1291.9,600.0 1293.4,600.1 1294.9,600.2 1296.4,600.3 1297.9,600.5 1299.4,600.6 1300.9,600.7 1302.4,600.8 1303.9,600.9 1305.4,601.1 1306.9,601.2 1308.4,601.3 1309.9,601.4 1311.4,601.5 1312.9,601.6 1314.4,601.8 1315.9,601.9 1317.4,602.0 1318.9,602.1 1320.4,602.2 1321.9,602.3 1323.4,602.4 1324.9,602.5 1326.4,602.7 1327.9,602.8 1329.4,602.9 1330.9,603.0 1332.4,603.1 1333.9,603.2 1335.4,603.3 1336.9,603.4 1338.4,603.6 1339.9,603.7 1341.4,603.8 1342.9,603.9 1344.4,604.0 1345.9,604.1 1347.4,604.2 1348.9,604.3 1350.4,604.5 1351.9,604.6 1353.4,604.7 1354.9,604.8 1356.4,604.9 1357.9,605.0 1359.4,605.2 1360.9,605.3 1362.4,605.4 1363.9,605.5 1365.4,605.6 1366.9,605.7 1368.4,605.8 1369.9,606.0 1371.4,606.1 1372.9,606.2 1374.4,606.3 1375.9,606.4 1377.4,606.5 1378.9,606.6 1380.4,606.7 1381.9,606.8 1383.4,606.9 1384.9,607.0 1386.4,607.1 1387.9,607.2 1389.4,607.3 1390.9,607.4 1392.4,607.5 1393.9,607.6 1395.4,607.7 1396.9,607.8 1398.4,607.9 1399.9,608.0 1401.4,608.0 1402.9,608.1 1404.4,608.2 1405.9,608.3 1407.4,608.3 1408.9,608.4 1410.4,608.5 1411.9,608.5 1413.4,608.6 1414.9,608.7 1416.4,608.7 1417.9,608.8 1419.4,608.8 1420.9,608.9 1422.4,608.9 1423.9,609.0 1425.4,609.0 1426.9,609.1 1428.4,609.1 1429.9,609.1 1431.4,609.2 1432.9,609.2 1434.4,609.3 1435.9,609.3 1437.4,609.3 1438.9,609.4 1440.4,609.4 1441.9,609.5 1443.4,609.5 1444.9,609.5 1446.4,609.6 1447.9,609.6 1449.4,609.6 1450.9,609.7 1452.4,609.7 1453.9,609.8 1455.4,609.8 1456.9,609.9 1458.4,609.9 1459.9,609.9 1461.4,610.0 1462.9,610.0 1464.4,610.1 1465.9,610.1 1467.4,610.2 1468.9,610.3 1470.4,610.3 1471.9,610.4 1473.4,610.4 1474.9,610.5 1476.4,610.6 1477.9,610.6 1479.4,610.7 1480.9,610.8 1482.4,610.9 1483.9,610.9 1485.4,611.0 1486.9,611.1 1488.4,611.2 1489.9,611.2 1491.4,611.3 1492.9,611.4 1494.4,611.5 1495.9,611.6 1497.4,611.7 1497.5,611.7" fill="none" stroke="#00f" stroke-width="7.0" stroke-linejoin="round" shape-rendering="crispEdges"/>
<g shape-rendering="crispEdges">
<path d="M177.4,605.1 L191.4,628.7 L163.4,628.7 Z" fill="#fff" stroke="#00f" stroke-width="3.2" stroke-linejoin="miter"/>
<path d="M239.0,725.8 L253.0,749.4 L225.0,749.4 Z" fill="#fff" stroke="#00f" stroke-width="3.2" stroke-linejoin="miter"/>
<path d="M300.5,894.1 L314.5,917.7 L286.5,917.7 Z" fill="#fff" stroke="#00f" stroke-width="3.2" stroke-linejoin="miter"/>
<path d="M362.1,1026.0 L376.1,1049.6 L348.1,1049.6 Z" fill="#fff" stroke="#00f" stroke-width="3.2" stroke-linejoin="miter"/>
<path d="M423.6,1089.0 L437.6,1112.6 L409.6,1112.6 Z" fill="#fff" stroke="#00f" stroke-width="3.2" stroke-linejoin="miter"/>
<path d="M485.2,1068.4 L499.2,1092.0 L471.2,1092.0 Z" fill="#fff" stroke="#00f" stroke-width="3.2" stroke-linejoin="miter"/>
<path d="M546.7,963.0 L560.7,986.6 L532.7,986.6 Z" fill="#fff" stroke="#00f" stroke-width="3.2" stroke-linejoin="miter"/>
<path d="M608.3,793.1 L622.3,816.7 L594.3,816.7 Z" fill="#fff" stroke="#00f" stroke-width="3.2" stroke-linejoin="miter"/>
<path d="M669.9,591.5 L683.9,615.1 L655.9,615.1 Z" fill="#fff" stroke="#00f" stroke-width="3.2" stroke-linejoin="miter"/>
<path d="M731.4,393.8 L745.4,417.4 L717.4,417.4 Z" fill="#fff" stroke="#00f" stroke-width="3.2" stroke-linejoin="miter"/>
<path d="M793.0,238.6 L807.0,262.2 L779.0,262.2 Z" fill="#fff" stroke="#00f" stroke-width="3.2" stroke-linejoin="miter"/>
<path d="M854.5,155.1 L868.5,178.7 L840.5,178.7 Z" fill="#fff" stroke="#00f" stroke-width="3.2" stroke-linejoin="miter"/>
<path d="M916.1,159.0 L930.1,182.6 L902.1,182.6 Z" fill="#fff" stroke="#00f" stroke-width="3.2" stroke-linejoin="miter"/>
<path d="M977.7,248.5 L991.7,272.1 L963.7,272.1 Z" fill="#fff" stroke="#00f" stroke-width="3.2" stroke-linejoin="miter"/>
<path d="M1039.2,407.8 L1053.2,431.4 L1025.2,431.4 Z" fill="#fff" stroke="#00f" stroke-width="3.2" stroke-linejoin="miter"/>
<path d="M1100.8,530.5 L1114.8,554.1 L1086.8,554.1 Z" fill="#fff" stroke="#00f" stroke-width="3.2" stroke-linejoin="miter"/>
<path d="M1162.3,560.2 L1176.3,583.8 L1148.3,583.8 Z" fill="#fff" stroke="#00f" stroke-width="3.2" stroke-linejoin="miter"/>
<path d="M1223.9,575.4 L1237.9,599.0 L1209.9,599.0 Z" fill="#fff" stroke="#00f" stroke-width="3.2" stroke-linejoin="miter"/>
<path d="M1285.4,583.5 L1299.4,607.1 L1271.4,607.1 Z" fill="#fff" stroke="#00f" stroke-width="3.2" stroke-linejoin="miter"/>
<path d="M1347.0,588.3 L1361.0,611.9 L1333.0,611.9 Z" fill="#fff" stroke="#00f" stroke-width="3.2" stroke-linejoin="miter"/>
<path d="M1408.6,592.5 L1422.6,616.1 L1394.6,616.1 Z" fill="#fff" stroke="#00f" stroke-width="3.2" stroke-linejoin="miter"/>
<path d="M1470.1,594.4 L1484.1,618.0 L1456.1,618.0 Z" fill="#fff" stroke="#00f" stroke-width="3.2" stroke-linejoin="miter"/>
</g>
<path d="M177.4,621.0 178.9,622.0 180.4,623.1 181.9,624.3 183.4,625.7 184.9,627.2 186.4,628.9 187.9,630.6 189.4,632.5 190.9,634.5 192.4,636.6 193.9,638.9 195.4,641.2 196.9,643.7 198.4,646.2 199.9,648.9 201.4,651.6 202.9,654.4 204.4,657.4 205.9,660.4 207.4,663.5 208.9,666.6 210.4,669.9 211.9,673.2 213.4,676.6 214.9,680.0 216.4,683.6 217.9,687.1 219.4,690.8 220.9,694.5 222.4,698.2 223.9,702.0 225.4,705.8 226.9,709.7 228.4,713.6 229.9,717.5 231.4,721.5 232.9,725.5 234.4,729.5 235.9,733.6 237.4,737.7 238.9,741.7 240.4,745.8 241.9,749.9 243.4,754.1 244.9,758.2 246.4,762.3 247.9,766.5 249.4,770.6 250.9,774.8 252.4,778.9 253.9,783.1 255.4,787.2 256.9,791.4 258.4,795.6 259.9,799.7 261.4,803.9 262.9,808.1 264.4,812.3 265.9,816.4 267.4,820.6 268.9,824.7 270.4,828.9 271.9,833.0 273.4,837.2 274.9,841.3 276.4,845.4 277.9,849.6 279.4,853.7 280.9,857.8 282.4,861.8 283.9,865.9 285.4,870.0 286.9,874.0 288.4,878.0 289.9,882.0 291.4,886.0 292.9,890.0 294.4,894.0 295.9,897.9 297.4,901.8 298.9,905.7 300.4,909.6 301.9,913.5 303.4,917.3 304.9,921.1 306.4,924.9 307.9,928.6 309.4,932.4 310.9,936.1 312.4,939.7 313.9,943.4 315.4,947.0 316.9,950.6 318.4,954.2 319.9,957.7 321.4,961.3 322.9,964.7 324.4,968.2 325.9,971.6 327.4,975.0 328.9,978.4 330.4,981.7 331.9,985.0 333.4,988.2 334.9,991.5 336.4,994.7 337.9,997.8 339.4,1000.9 340.9,1004.0 342.4,1007.1 343.9,1010.1 345.4,1013.1 346.9,1016.0 348.4,1018.9 349.9,1021.8 351.4,1024.6 352.9,1027.4 354.4,1030.1 355.9,1032.8 357.4,1035.5 358.9,1038.1 360.4,1040.7 361.9,1043.2 363.4,1045.7 364.9,1048.1 366.4,1050.5 367.9,1052.9 369.4,1055.2 370.9,1057.5 372.4,1059.7 373.9,1061.9 375.4,1064.0 376.9,1066.1 378.4,1068.2 379.9,1070.2 381.4,1072.1 382.9,1074.0 384.4,1075.9 385.9,1077.7 387.4,1079.5 388.9,1081.2 390.4,1082.9 391.9,1084.5 393.4,1086.0 394.9,1087.6 396.4,1089.1 397.9,1090.5 399.4,1091.9 400.9,1093.2 402.4,1094.5 403.9,1095.7 405.4,1096.9 406.9,1098.0 408.4,1099.1 409.9,1100.1 411.4,1101.1 412.9,1102.1 414.4,1102.9 415.9,1103.8 417.4,1104.5 418.9,1105.3 420.4,1105.9 421.9,1106.6 423.4,1107.1 424.9,1107.6 426.4,1108.1 427.9,1108.5 429.4,1108.9 430.9,1109.2 432.4,1109.4 433.9,1109.6 435.4,1109.8 436.9,1109.8 438.4,1109.9 439.9,1109.9 441.4,1109.8 442.9,1109.7 444.4,1109.5 445.9,1109.3 447.4,1109.0 448.9,1108.7 450.4,1108.3 451.9,1107.9 453.4,1107.4 454.9,1106.9 456.4,1106.3 457.9,1105.7 459.4,1105.0 460.9,1104.3 462.4,1103.5 463.9,1102.7 465.4,1101.8 466.9,1100.8 468.4,1099.8 469.9,1098.8 471.4,1097.7 472.9,1096.6 474.4,1095.4 475.9,1094.1 477.4,1092.8 478.9,1091.5 480.4,1090.1 481.9,1088.6 483.4,1087.2 484.9,1085.6 486.4,1084.0 487.9,1082.4 489.4,1080.7 490.9,1078.9 492.4,1077.1 493.9,1075.3 495.4,1073.4 496.9,1071.5 498.4,1069.5 499.9,1067.4 501.4,1065.3 502.9,1063.2 504.4,1061.0 505.9,1058.8 507.4,1056.5 508.9,1054.2 510.4,1051.8 511.9,1049.4 513.4,1047.0 514.9,1044.5 516.4,1041.9 517.9,1039.3 519.4,1036.7 520.9,1034.0 522.4,1031.3 523.9,1028.5 525.4,1025.7 526.9,1022.8 528.4,1019.9 529.9,1017.0 531.4,1014.0 532.9,1010.9 534.4,1007.8 535.9,1004.7 537.4,1001.6 538.9,998.4 540.4,995.1 541.9,991.8 543.4,988.5 544.9,985.1 546.4,981.7 547.9,978.2 549.4,974.7 550.9,971.2 552.4,967.6 553.9,964.0 555.4,960.4 556.9,956.7 558.4,953.0 559.9,949.2 561.4,945.4 562.9,941.6 564.4,937.7 565.9,933.8 567.4,929.8 568.9,925.9 570.4,921.9 571.9,917.8 573.4,913.8 574.9,909.7 576.4,905.5 577.9,901.4 579.4,897.2 580.9,892.9 582.4,888.7 583.9,884.4 585.4,880.1 586.9,875.8 588.4,871.4 589.9,867.0 591.4,862.6 592.9,858.2 594.4,853.7 595.9,849.2 597.4,844.7 598.9,840.2 600.4,835.6 601.9,831.0 603.4,826.4 604.9,821.8 606.4,817.1 607.9,812.5 609.4,807.8 610.9,803.1 612.4,798.4 613.9,793.6 615.4,788.9 616.9,784.1 618.4,779.3 619.9,774.5 621.4,769.6 622.9,764.8 624.4,760.0 625.9,755.1 627.4,750.2 628.9,745.3 630.4,740.4 631.9,735.5 633.4,730.6 634.9,725.6 636.4,720.7 637.9,715.7 639.4,710.7 640.9,705.8 642.4,700.8 643.9,695.8 645.4,690.8 646.9,685.8 648.4,680.8 649.9,675.8 651.4,670.8 652.9,665.7 654.4,660.7 655.9,655.7 657.4,650.6 658.9,645.6 660.4,640.6 661.9,635.5 663.4,630.5 664.9,625.5 666.4,620.4 667.9,615.4 669.4,610.4 670.9,605.3 672.4,600.3 673.9,595.3 675.4,590.3 676.9,585.2 678.4,580.2 679.9,575.2 681.4,570.2 682.9,565.2 684.4,560.2 685.9,555.3 687.4,550.3 688.9,545.3 690.4,540.4 691.9,535.5 693.4,530.5 694.9,525.6 696.4,520.7 697.9,515.8 699.4,510.9 700.9,506.1 702.4,501.2 703.9,496.4 705.4,491.6 706.9,486.8 708.4,482.0 709.9,477.2 711.4,472.5 712.9,467.7 714.4,463.0 715.9,458.3 717.4,453.6 718.9,449.0 720.4,444.4 721.9,439.7 723.4,435.1 724.9,430.6 726.4,426.0 727.9,421.5 729.4,417.0 730.9,412.5 732.4,408.1 733.9,403.7 735.4,399.3 736.9,394.9 738.4,390.6 739.9,386.3 741.4,382.0 742.9,377.7 744.4,373.5 745.9,369.3 747.4,365.2 748.9,361.0 750.4,356.9 751.9,352.9 753.4,348.8 754.9,344.8 756.4,340.8 757.9,336.9 759.4,333.0 760.9,329.1 762.4,325.3 763.9,321.5 765.4,317.7 766.9,314.0 768.4,310.3 769.9,306.6 771.4,303.0 772.9,299.4 774.4,295.8 775.9,292.3 777.4,288.9 778.9,285.4 780.4,282.0 781.9,278.7 783.4,275.4 784.9,272.1 786.4,268.9 787.9,265.7 789.4,262.5 790.9,259.4 792.4,256.4 793.9,253.4 795.4,250.4 796.9,247.5 798.4,244.6 799.9,241.7 801.4,238.9 802.9,236.2 804.4,233.5 805.9,230.8 807.4,228.2 808.9,225.6 810.4,223.1 811.9,220.6 813.4,218.2 814.9,215.8 816.4,213.5 817.9,211.2 819.4,209.0 820.9,206.8 822.4,204.7 823.9,202.6 825.4,200.5 826.9,198.5 828.4,196.6 829.9,194.7 831.4,192.8 832.9,191.1 834.4,189.3 835.9,187.6 837.4,186.0 838.9,184.4 840.4,182.8 841.9,181.4 843.4,179.9 844.9,178.5 846.4,177.2 847.9,175.9 849.4,174.7 850.9,173.5 852.4,172.4 853.9,171.3 855.4,170.3 856.9,169.4 858.4,168.5 859.9,167.6 861.4,166.8 862.9,166.1 864.4,165.4 865.9,164.8 867.4,164.2 868.9,163.6 870.4,163.2 871.9,162.7 873.4,162.4 874.9,162.1 876.4,161.8 877.9,161.6 879.4,161.4 880.9,161.3 882.4,161.3 883.9,161.3 885.4,161.3 886.9,161.5 888.4,161.6 889.9,161.8 891.4,162.1 892.9,162.4 894.4,162.8 895.9,163.2 897.4,163.7 898.9,164.2 900.4,164.8 901.9,165.4 903.4,166.1 904.9,166.9 906.4,167.7 907.9,168.5 909.4,169.4 910.9,170.3 912.4,171.3 913.9,172.4 915.4,173.5 916.9,174.6 918.4,175.8 919.9,177.1 921.4,178.4 922.9,179.7 924.4,181.1 925.9,182.6 927.4,184.1 928.9,185.7 930.4,187.3 931.9,188.9 933.4,190.6 934.9,192.4 936.4,194.2 937.9,196.1 939.4,198.0 940.9,199.9 942.4,202.0 943.9,204.0 945.4,206.1 946.9,208.3 948.4,210.5 949.9,212.7 951.4,215.0 952.9,217.4 954.4,219.8 955.9,222.2 957.4,224.7 958.9,227.3 960.4,229.9 961.9,232.5 963.4,235.2 964.9,237.9 966.4,240.7 967.9,243.5 969.4,246.4 970.9,249.3 972.4,252.3 973.9,255.3 975.4,258.4 976.9,261.5 978.4,264.7 979.9,267.9 981.4,271.1 982.9,274.4 984.4,277.8 985.9,281.1 987.4,284.6 988.9,288.0 990.4,291.5 991.9,295.1 993.4,298.7 994.9,302.3 996.4,305.9 997.9,309.6 999.4,313.4 1000.9,317.1 1002.4,320.9 1003.9,324.8 1005.4,328.6 1006.9,332.5 1008.4,336.4 1009.9,340.4 1011.4,344.4 1012.9,348.4 1014.4,352.4 1015.9,356.5 1017.4,360.6 1018.9,364.7 1020.4,368.8 1021.9,373.0 1023.4,377.1 1024.9,381.3 1026.4,385.6 1027.9,389.8 1029.4,394.1 1030.9,398.3 1032.4,402.6 1033.9,406.9 1035.4,411.3 1036.9,415.6 1038.4,419.9 1039.9,424.3 1041.4,428.7 1042.9,433.1 1044.4,437.4 1045.9,441.8 1047.4,446.2 1048.9,450.6 1050.4,455.0 1051.9,459.4 1053.4,463.7 1054.9,468.0 1056.4,472.4 1057.9,476.7 1059.4,480.9 1060.9,485.1 1062.4,489.2 1063.9,493.1 1065.4,496.9 1066.9,500.6 1068.4,504.1 1069.9,507.4 1071.4,510.4 1072.9,513.2 1074.4,515.8 1075.9,518.1 1077.4,520.2 1078.9,522.1 1080.4,523.9 1081.9,525.6 1083.4,527.2 1084.9,528.7 1086.4,530.2 1087.9,531.7 1089.4,533.2 1090.9,534.8 1092.4,536.4 1093.9,538.0 1095.4,539.6 1096.9,541.2 1098.4,542.7 1099.9,544.2 1101.4,545.6 1102.9,546.8 1104.4,548.0 1105.9,549.1 1107.4,550.2 1108.9,551.1 1110.4,552.0 1111.9,552.9 1113.4,553.7 1114.9,554.4 1116.4,555.2 1117.9,555.9 1119.4,556.6 1120.9,557.3 1122.4,558.1 1123.9,558.8 1125.4,559.5 1126.9,560.3 1128.4,561.1 1129.9,562.0 1131.4,562.8 1132.9,563.7 1134.4,564.5 1135.9,565.4 1137.4,566.2 1138.9,567.0 1140.4,567.8 1141.9,568.6 1143.4,569.3 1144.9,570.0 1146.4,570.6 1147.9,571.2 1149.4,571.8 1150.9,572.4 1152.4,572.9 1153.9,573.4 1155.4,573.8 1156.9,574.3 1158.4,574.8 1159.9,575.2 1161.4,575.6 1162.9,576.1 1164.4,576.5 1165.9,576.9 1167.4,577.3 1168.9,577.8 1170.4,578.2 1171.9,578.6 1173.4,579.0 1174.9,579.4 1176.4,579.9 1177.9,580.3 1179.4,580.7 1180.9,581.1 1182.4,581.5 1183.9,581.9 1185.4,582.3 1186.9,582.7 1188.4,583.1 1189.9,583.4 1191.4,583.8 1192.9,584.2 1194.4,584.6 1195.9,585.0 1197.4,585.3 1198.9,585.7 1200.4,586.0 1201.9,586.4 1203.4,586.7 1204.9,587.1 1206.4,587.4 1207.9,587.8 1209.4,588.1 1210.9,588.4 1212.4,588.7 1213.9,589.1 1215.4,589.4 1216.9,589.7 1218.4,590.0 1219.9,590.3 1221.4,590.5 1222.9,590.8 1224.4,591.1 1225.9,591.4 1227.4,591.6 1228.9,591.9 1230.4,592.1 1231.9,592.4 1233.4,592.6 1234.9,592.8 1236.4,593.1 1237.9,593.3 1239.4,593.5 1240.9,593.7 1242.4,593.9 1243.9,594.1 1245.4,594.3 1246.9,594.5 1248.4,594.7 1249.9,594.9 1251.4,595.1 1252.9,595.3 1254.4,595.5 1255.9,595.6 1257.4,595.8 1258.9,596.0 1260.4,596.1 1261.9,596.3 1263.4,596.5 1264.9,596.6 1266.4,596.8 1267.9,596.9 1269.4,597.1 1270.9,597.3 1272.4,597.4 1273.9,597.6 1275.4,597.7 1276.9,597.9 1278.4,598.0 1279.9,598.2 1281.4,598.3 1282.9,598.4 1284.4,598.6 1285.9,598.7 1287.4,598.9 1288.9,599.0 1290.4,599.2 1291.9,599.3 1293.4,599.5 1294.9,599.6 1296.4,599.8 1297.9,599.9 1299.4,600.1 1300.9,600.2 1302.4,600.4 1303.9,600.5 1305.4,600.7 1306.9,600.8 1308.4,601.0 1309.9,601.1 1311.4,601.3 1312.9,601.4 1314.4,601.6 1315.9,601.7 1317.4,601.8 1318.9,602.0 1320.4,602.1 1321.9,602.3 1323.4,602.4 1324.9,602.5 1326.4,602.7 1327.9,602.8 1329.4,602.9 1330.9,603.1 1332.4,603.2 1333.9,603.3 1335.4,603.5 1336.9,603.6 1338.4,603.7 1339.9,603.8 1341.4,604.0 1342.9,604.1 1344.4,604.2 1345.9,604.3 1347.4,604.4 1348.9,604.5 1350.4,604.7 1351.9,604.8 1353.4,604.9 1354.9,605.0 1356.4,605.1 1357.9,605.2 1359.4,605.3 1360.9,605.4 1362.4,605.5 1363.9,605.6 1365.4,605.7 1366.9,605.8 1368.4,605.8 1369.9,605.9 1371.4,606.0 1372.9,606.1 1374.4,606.2 1375.9,606.3 1377.4,606.4 1378.9,606.4 1380.4,606.5 1381.9,606.6 1383.4,606.7 1384.9,606.8 1386.4,606.8 1387.9,606.9 1389.4,607.0 1390.9,607.1 1392.4,607.1 1393.9,607.2 1395.4,607.3 1396.9,607.4 1398.4,607.4 1399.9,607.5 1401.4,607.6 1402.9,607.6 1404.4,607.7 1405.9,607.8 1407.4,607.8 1408.9,607.9 1410.4,608.0 1411.9,608.1 1413.4,608.1 1414.9,608.2 1416.4,608.3 1417.9,608.3 1419.4,608.4 1420.9,608.5 1422.4,608.5 1423.9,608.6 1425.4,608.7 1426.9,608.7 1428.4,608.8 1429.9,608.8 1431.4,608.9 1432.9,609.0 1434.4,609.0 1435.9,609.1 1437.4,609.2 1438.9,609.2 1440.4,609.3 1441.9,609.4 1443.4,609.4 1444.9,609.5 1446.4,609.5 1447.9,609.6 1449.4,609.7 1450.9,609.7 1452.4,609.8 1453.9,609.8 1455.4,609.9 1456.9,609.9 1458.4,610.0 1459.9,610.0 1461.4,610.1 1462.9,610.2 1464.4,610.2 1465.9,610.3 1467.4,610.3 1468.9,610.4 1470.4,610.4 1471.9,610.5 1473.4,610.5 1474.9,610.6 1476.4,610.6 1477.9,610.6 1479.4,610.7 1480.9,610.7 1482.4,610.8 1483.9,610.8 1485.4,610.9 1486.9,610.9 1488.4,611.0 1489.9,611.0 1491.4,611.1 1492.9,611.1 1494.4,611.1 1495.9,611.2 1497.4,611.2 1497.5,611.2" fill="none" stroke="#f0f" stroke-width="7.0" stroke-linejoin="round" shape-rendering="crispEdges"/>
<g shape-rendering="crispEdges">
<path d="M157.8,621.0 H197.0 M177.4,601.2 V640.8" fill="none" stroke="#f0f" stroke-width="4.0" stroke-linecap="round"/>
<path d="M219.4,741.9 H258.6 M239.0,722.1 V761.7" fill="none" stroke="#f0f" stroke-width="4.0" stroke-linecap="round"/>
<path d="M280.9,909.9 H320.1 M300.5,890.1 V929.7" fill="none" stroke="#f0f" stroke-width="4.0" stroke-linecap="round"/>
<path d="M342.5,1043.5 H381.7 M362.1,1023.7 V1063.3" fill="none" stroke="#f0f" stroke-width="4.0" stroke-linecap="round"/>
<path d="M404.0,1107.2 H443.2 M423.6,1087.4 V1127.0" fill="none" stroke="#f0f" stroke-width="4.0" stroke-linecap="round"/>
<path d="M465.6,1085.3 H504.8 M485.2,1065.5 V1105.1" fill="none" stroke="#f0f" stroke-width="4.0" stroke-linecap="round"/>
<path d="M527.1,980.9 H566.3 M546.7,961.1 V1000.7" fill="none" stroke="#f0f" stroke-width="4.0" stroke-linecap="round"/>
<path d="M588.7,811.2 H627.9 M608.3,791.4 V831.0" fill="none" stroke="#f0f" stroke-width="4.0" stroke-linecap="round"/>
<path d="M650.3,608.8 H689.5 M669.9,589.0 V628.6" fill="none" stroke="#f0f" stroke-width="4.0" stroke-linecap="round"/>
<path d="M711.8,411.0 H751.0 M731.4,391.2 V430.8" fill="none" stroke="#f0f" stroke-width="4.0" stroke-linecap="round"/>
<path d="M773.4,255.2 H812.6 M793.0,235.4 V275.0" fill="none" stroke="#f0f" stroke-width="4.0" stroke-linecap="round"/>
<path d="M834.9,170.9 H874.1 M854.5,151.1 V190.7" fill="none" stroke="#f0f" stroke-width="4.0" stroke-linecap="round"/>
<path d="M896.5,174.0 H935.7 M916.1,154.2 V193.8" fill="none" stroke="#f0f" stroke-width="4.0" stroke-linecap="round"/>
<path d="M958.1,263.1 H997.3 M977.7,243.3 V282.9" fill="none" stroke="#f0f" stroke-width="4.0" stroke-linecap="round"/>
<path d="M1019.6,422.3 H1058.8 M1039.2,402.5 V442.1" fill="none" stroke="#f0f" stroke-width="4.0" stroke-linecap="round"/>
<path d="M1081.2,545.0 H1120.4 M1100.8,525.2 V564.8" fill="none" stroke="#f0f" stroke-width="4.0" stroke-linecap="round"/>
<path d="M1142.7,575.9 H1181.9 M1162.3,556.1 V595.7" fill="none" stroke="#f0f" stroke-width="4.0" stroke-linecap="round"/>
<path d="M1204.3,591.0 H1243.5 M1223.9,571.2 V610.8" fill="none" stroke="#f0f" stroke-width="4.0" stroke-linecap="round"/>
<path d="M1265.8,598.7 H1305.0 M1285.4,578.9 V618.5" fill="none" stroke="#f0f" stroke-width="4.0" stroke-linecap="round"/>
<path d="M1327.4,604.4 H1366.6 M1347.0,584.6 V624.2" fill="none" stroke="#f0f" stroke-width="4.0" stroke-linecap="round"/>
<path d="M1389.0,607.9 H1428.2 M1408.6,588.1 V627.7" fill="none" stroke="#f0f" stroke-width="4.0" stroke-linecap="round"/>
<path d="M1450.5,610.4 H1489.7 M1470.1,590.6 V630.2" fill="none" stroke="#f0f" stroke-width="4.0" stroke-linecap="round"/>
</g>
<g filter="url(#bin)">
<g class="a" font-size="66">
<text x="123.2" y="107.5" text-anchor="end">2</text>
<text x="123.2" y="374.0" text-anchor="end">1</text>
<text x="123.2" y="640.5" text-anchor="end">0</text>
<text x="123.2" y="907.0" text-anchor="end">-1</text>
<text x="123.2" y="1173.5" text-anchor="end">-2</text>
<text x="178.20000000000002" y="1241.3" text-anchor="middle">0.0</text>
<text x="617.9" y="1241.3" text-anchor="middle">0.5</text>
<text x="1057.6" y="1241.3" text-anchor="middle">1.0</text>
<text x="1497.3" y="1241.3" text-anchor="middle">1.5</text>
</g>
<text class="a" font-size="70" y="142.3"><tspan class="s i" x="192" y="143.3" font-size="75" style="stroke-width:2.2px">δ</tspan><tspan class="a i" x="224" y="142.3">T</tspan><tspan x="267" y="142" font-size="68" textLength="20.05" lengthAdjust="spacingAndGlyphs">(</tspan><tspan class="s i" x="290.9" y="142.5" font-size="89.7" textLength="19.65" lengthAdjust="spacingAndGlyphs" style="stroke-width:1.2px">t</tspan><tspan x="309" y="142.3">,</tspan><tspan x="329.5" y="142.3">0</tspan><tspan x="372.3" y="142" font-size="68" textLength="36.77" lengthAdjust="spacingAndGlyphs">) </tspan><tspan x="412" y="142.3">/ </tspan><tspan x="452.5" y="142.3">K</tspan></text>
<text class="a" font-size="70" y="1314"><tspan class="s i" x="1327.8" y="1313.6" font-size="89.7" textLength="19.65" lengthAdjust="spacingAndGlyphs" style="stroke-width:1.2px">t</tspan><tspan x="1347.04" y="1314"> / </tspan><tspan x="1405.5" y="1314">ns</tspan></text>
<g shape-rendering="crispEdges">
<path d="M1024,746.5 H1149" stroke="#000" stroke-width="7.0" fill="none" stroke-linecap="round"/>
<rect x="1074.2" y="734.8" width="24.8" height="24.2" fill="#000"/>
<path d="M1024,852 H1149" stroke="#f00" stroke-width="6.0" fill="none" stroke-linecap="round"/>
<ellipse cx="1086.1" cy="852.3" rx="12.5" ry="12.0" fill="#fff" stroke="#f00" stroke-width="3.0"/>
<path d="M1024,957.5 H1149" stroke="#00f" stroke-width="6.6" fill="none" stroke-linecap="round"/>
<path d="M1086.5,942.6 L1100.5,966.2 L1072.5,966.2 Z" fill="#fff" stroke="#00f" stroke-width="3.2" stroke-linejoin="miter"/>
<path d="M1024,1063 H1149" stroke="#f0f" stroke-width="6.0" fill="none" stroke-linecap="round"/>
<path d="M1086.5,1063.0 H1086.5 M1086.5,1043.2 V1082.8" fill="none" stroke="#f0f" stroke-width="4.0" stroke-linecap="round"/>
</g>
<text class="s" font-size="70"><tspan class="s i" x="1172" y="767.5" font-size="74" textLength="29.14" lengthAdjust="spacingAndGlyphs" style="stroke-width:1.3px">τ</tspan><tspan x="1195" y="785.8" font-size="52" style="stroke-width:0.1px">0</tspan><tspan x="1218.5" y="771.3" font-size="70" style="stroke-width:1px"> = </tspan><tspan x="1288.3" y="767.1" font-size="67" textLength="35.18" lengthAdjust="spacingAndGlyphs" style="stroke-width:0.1px">0</tspan></text>
<text class="s" font-size="70"><tspan class="s i" x="1172" y="873" font-size="74" textLength="29.14" lengthAdjust="spacingAndGlyphs" style="stroke-width:1.3px">τ</tspan><tspan x="1195" y="891.3" font-size="52" style="stroke-width:0.1px">0</tspan><tspan x="1218.5" y="876.8" font-size="70" style="stroke-width:1px"> = </tspan><tspan x="1288.3" y="872.6" font-size="67" textLength="52.76" lengthAdjust="spacingAndGlyphs" style="stroke-width:0.1px">0.</tspan><tspan class="a" x="1339.7" y="871.0" font-size="55.5" style="stroke-width:0.45px">1 ns</tspan></text>
<text class="s" font-size="70"><tspan class="s i" x="1172" y="978.5" font-size="74" textLength="29.14" lengthAdjust="spacingAndGlyphs" style="stroke-width:1.3px">τ</tspan><tspan x="1195" y="996.8" font-size="52" style="stroke-width:0.1px">0</tspan><tspan x="1218.5" y="982.3" font-size="70" style="stroke-width:1px"> = </tspan><tspan class="a" x="1289.8" y="975.9" font-size="55.5" style="stroke-width:0.45px">10 ns</tspan></text>
<text class="s" font-size="70"><tspan class="s i" x="1172" y="1084" font-size="74" textLength="29.14" lengthAdjust="spacingAndGlyphs" style="stroke-width:1.3px">τ</tspan><tspan x="1195" y="1102.3" font-size="52" style="stroke-width:0.1px">0</tspan><tspan x="1218.5" y="1087.8" font-size="70" style="stroke-width:1px"> = </tspan><tspan class="a" x="1290.0" y="1081.4" font-size="55.5" style="stroke-width:0.45px">100 ns</tspan></text>
</g>
</svg>
</body></html>
